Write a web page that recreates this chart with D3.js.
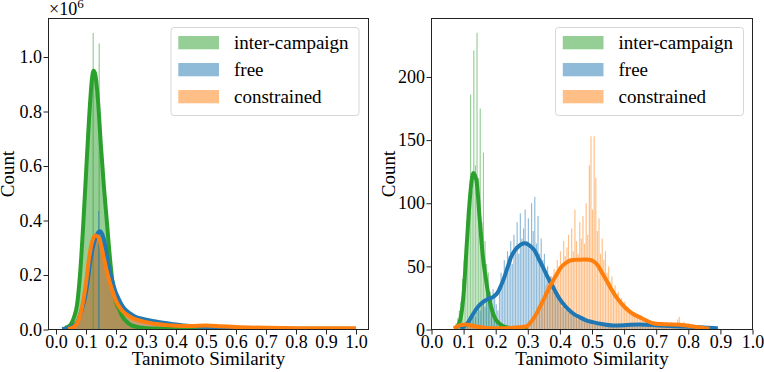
<!DOCTYPE html>
<html>
<head>
<meta charset="utf-8">
<script src="https://cdn.jsdelivr.net/npm/d3@7"></script>
<style>
  body { margin: 0; background: #fff; }
</style>
</head>
<body>
<div id="chart"></div>
<script>
// ---- data ----
var labels = ["inter-campaign", "free", "constrained"];
var colors = ["#2ca02c", "#1f77b4", "#ff7f0e"];
var xTicks = [0, 0.1, 0.2, 0.3, 0.4, 0.5, 0.6, 0.7, 0.8, 0.9, 1.0];
var leftYTicks = [0, 0.2, 0.4, 0.6, 0.8, 1.0];   // x 10^6
var rightYTicks = [0, 50, 100, 150, 200];

// left panel: all molecules (counts in millions), bins of 0.01
var leftBinWidth = 0.01;
var leftHistStart = [0.03, 0.02, 0.04];
var leftHistGreen = [0.008,0.015,0.035,0.065,0.13,0.28,0.47,0.68,0.86,0.93,0.87,0.74,0.6,0.45,0.32,0.2,0.13,0.085,0.058,0.04,0.027,0.018,0.012,0.008,0.006,0.005,0.004];
var leftHistBlue = [0.003,0.004,0.007,0.012,0.022,0.038,0.07,0.11,0.17,0.25,0.31,0.345,0.36,0.345,0.3,0.235,0.19,0.148,0.115,0.092,0.08,0.068,0.06,0.053,0.047,0.043,0.04,0.037,0.035,0.033,0.03,0.028,0.026,0.024,0.023,0.021,0.019,0.018,0.016,0.015,0.014,0.013,0.012,0.011,0.01,0.01,0.009,0.008];
var leftHistOrange = [0.003,0.008,0.02,0.04,0.075,0.14,0.22,0.29,0.335,0.345,0.325,0.29,0.235,0.19,0.15,0.12,0.095,0.078,0.065,0.055,0.048,0.042,0.037,0.033,0.03,0.028,0.025,0.023,0.021,0.02,0.019,0.018,0.017,0.016,0.015,0.014,0.014,0.013,0.013,0.013,0.013,0.014,0.015,0.016,0.015,0.014,0.013,0.012,0.012,0.011,0.01,0.01,0.01,0.009,0.009,0.008,0.008,0.008,0.007,0.007];
// single tall bins that stick out of the left histograms
var leftSpikeX = [0.124, 0.144, 0.142];
var leftSpikeV = [1.088, 1.05, 0.435];
var leftSpikeSeries = [0, 0, 1];

var leftKdeGreenX = [0.03,0.04,0.05,0.06,0.07,0.08,0.09,0.10,0.11,0.12,0.125,0.13,0.14,0.15,0.16,0.17,0.18,0.19,0.20,0.21,0.22,0.24,0.26,0.30,0.40,0.60,0.80];
var leftKdeGreen = [0.005,0.01,0.02,0.045,0.09,0.2,0.37,0.57,0.77,0.92,0.95,0.94,0.84,0.67,0.52,0.39,0.26,0.16,0.1,0.075,0.05,0.024,0.012,0.005,0.003,0.002,0.002];
var leftKdeBlueX = [0.02,0.04,0.06,0.074,0.085,0.097,0.105,0.113,0.125,0.137,0.147,0.16,0.174,0.185,0.197,0.21,0.224,0.245,0.269,0.29,0.313,0.34,0.369,0.4,0.424,0.46,0.49,0.55,0.6,0.7,0.8,0.9,1.0];
var leftKdeBlue = [0.002,0.005,0.015,0.033,0.07,0.119,0.17,0.24,0.31,0.35,0.361,0.33,0.24,0.19,0.143,0.11,0.082,0.06,0.045,0.039,0.033,0.028,0.023,0.018,0.015,0.012,0.01,0.007,0.005,0.004,0.003,0.003,0.002];
var leftKdeOrangeX = [0.04,0.06,0.08,0.09,0.1,0.11,0.12,0.13,0.14,0.15,0.16,0.17,0.18,0.19,0.2,0.22,0.25,0.28,0.3,0.35,0.4,0.45,0.5,0.55,0.6,0.7,0.8,0.9,1.0];
var leftKdeOrange = [0.002,0.01,0.05,0.1,0.17,0.26,0.32,0.345,0.34,0.31,0.26,0.21,0.17,0.135,0.105,0.07,0.045,0.032,0.027,0.018,0.014,0.013,0.015,0.012,0.009,0.006,0.005,0.005,0.005];

// right panel: selected molecules (counts), bins of 0.005
var rightBinWidth = 0.005;
var rightHistStart = [0.07, 0.09, 0.07];
var rightHistGreen = [2,5,9,15,22,40,55,48,95,80,186,110,221,130,235,120,175,85,140,70,52,45,30,25,17,12,9,7,5,4,3,3,2,2,2,1,1,1,1,1,0,1,0,1];
var rightHistBlue = [0,1,2,3,5,4,7,9,12,10,
  14,17,15,20,24,18,28,22,30,25,
  32,27,20,15,35,45,38,55,48,62,
  58,70,52,75,66,85,60,92,72,80,
  95,70,88,64,100,78,105,68,90,60,
  72,55,60,45,50,38,42,30,35,27,
  28,22,24,18,20,15,16,13,14,11,
  12,10,10,8,9,7,8,6,7,6,
  6,5,5,4,5,4,4,3,4,3,
  3,4,3,3,2,4,3,3,4,3,
  4,3,5,4,3,5,4,4,5,4,
  4,5,3,4,4,3,5,3,4,3,
  3,4,3,3,2,3,3,2,3,2,
  3,2,2,3,2,2,3,2,2,1,
  2,2,1,2,2,1,2,1,2,1,
  2,1,1,2,1,1,1,1,1,1,
  1];
var rightHistOrange = [2,3,5,4,6,4,5,3,4,3,
  3,2,3,2,2,1,2,1,1,1,
  1,1,1,0,1,1,0,1,1,0,
  1,1,0,1,1,1,2,1,1,2,
  2,1,2,3,2,3,4,5,7,9,
  12,15,14,20,24,22,30,35,28,38,
  42,36,48,45,55,50,62,52,70,58,
  65,75,55,80,62,95,70,60,85,72,
  90,68,100,75,130,153,95,153,120,78,
  88,60,72,55,62,45,50,38,42,32,
  35,28,30,22,25,20,22,16,18,14,
  15,12,14,10,12,9,11,8,9,7,
  8,6,7,5,6,5,6,4,5,5,
  6,4,5,4,5,6,4,5,4,8,
  10,5,4,6,3,4,5,3,4,3,
  3,2,3,2,3,2,2,1,2,1,
  1,1,1,1,0];

var rightKdeGreenX = [0.07,0.08,0.09,0.1,0.11,0.12,0.13,0.14,0.15,0.16,0.17,0.18,0.19,0.2,0.21,0.22,0.24,0.26,0.28,0.3];
var rightKdeGreen = [0.5,2,8,28,68,105,124,118,88,58,39,24,14,8,5,3,1.5,1,0.6,0.3];
var rightKdeBlueX = [0.09,0.1,0.115,0.13,0.145,0.16,0.175,0.191,0.207,0.217,0.227,0.238,0.248,0.258,0.269,0.28,0.29,0.3,0.31,0.321,0.334,0.347,0.36,0.373,0.386,0.399,0.415,0.43,0.445,0.461,0.48,0.502,0.53,0.565,0.6,0.648,0.71,0.773,0.835,0.892];
var rightKdeBlue = [0.5,2,6,12.5,18,21.7,24,25.6,29.6,35,41.5,50,57.4,62,65.3,67.5,68.3,67.5,65.5,62.7,56,49.4,42.5,36.2,30,24.3,19,15,12,9.8,7.5,5.8,4.3,3.2,3.4,4,3.2,2.4,1.8,1];
var rightKdeOrangeX = [0.07,0.077,0.09,0.107,0.12,0.138,0.16,0.18,0.22,0.253,0.275,0.295,0.31,0.327,0.34,0.353,0.366,0.379,0.392,0.404,0.42,0.435,0.45,0.465,0.48,0.492,0.505,0.518,0.53,0.545,0.56,0.576,0.592,0.607,0.627,0.648,0.67,0.69,0.715,0.742,0.773,0.8,0.814,0.84,0.866];
var rightKdeOrange = [1,2,3.5,4,3.4,2.4,1.5,1,0.9,1.3,1.8,2.4,6,12.5,19,25.6,32.5,38.9,44.5,49.4,53,54.8,55.3,55.3,55.5,55.3,54,50.8,45.5,38.9,32,25.6,20.5,16.4,12.5,9.8,7,5,4.3,4,3.7,3,2.4,1.5,0.6];

var FONT = "'Liberation Serif', 'DejaVu Serif', serif";

// ---- chart ----
var svg = d3.select("#chart").append("svg")
            .attr("width", 764)
            .attr("height", 372)
            .style("font-family", FONT);

function drawPanel(p) {
  var x = d3.scaleLinear().domain(p.xDomain).range([p.left, p.right]);
  var y = d3.scaleLinear().domain(p.yDomain).range([p.bottom, p.top]);
  var g = svg.append("g");

  g.append("clipPath").attr("id", "clip" + p.id)
    .append("rect")
    .attr("x", p.left).attr("y", p.top)
    .attr("width", p.right - p.left).attr("height", p.bottom - p.top);
  var plot = g.append("g").attr("clip-path", "url(#clip" + p.id + ")");

  // histograms
  p.hists.forEach(function(h) {
    if (p.steps) {
      // fine bins with many counts: one stepped outline, no seams
      var pts = [[x(h.start), y(0)]];
      h.values.forEach(function(v, i) {
        pts.push([x(h.start + i * p.binWidth), y(v)]);
        pts.push([x(h.start + (i + 1) * p.binWidth), y(v)]);
      });
      pts.push([x(h.start + h.values.length * p.binWidth), y(0)]);
      plot.append("path")
        .attr("d", d3.line()(pts) + "Z")
        .attr("fill", colors[h.series])
        .attr("fill-opacity", 0.5);
    } else {
      plot.append("g").selectAll("rect")
        .data(h.values)
        .join("rect")
        .attr("x", function(d, i) { return x(h.start + i * p.binWidth); })
        .attr("width", function(d, i) {
          return (x(h.start + (i + 1) * p.binWidth) - x(h.start + i * p.binWidth)) * 0.72;
        })
        .attr("y", function(d) { return y(d); })
        .attr("height", function(d) { return y(0) - y(d); })
        .attr("fill", colors[h.series])
        .attr("fill-opacity", 0.5);
    }
  });

  if (p.spikes) {
    plot.append("g").selectAll("rect")
      .data(p.spikes.x)
      .join("rect")
      .attr("x", function(d) { return x(d - 0.002); })
      .attr("width", function(d) { return x(d + 0.002) - x(d - 0.002); })
      .attr("y", function(d, i) { return y(p.spikes.v[i]); })
      .attr("height", function(d, i) { return y(0) - y(p.spikes.v[i]); })
      .attr("fill", function(d, i) { return colors[p.spikes.series[i]]; })
      .attr("fill-opacity", 0.5);
  }

  // kde curves
  var line = d3.line()
    .x(function(d) { return x(d[0]); })
    .y(function(d) { return y(d[1]); })
    .curve(d3.curveMonotoneX);
  p.kdes.forEach(function(k) {
    plot.append("path")
      .attr("d", line(d3.zip(k.x, k.v)))
      .attr("fill", "none")
      .attr("stroke", colors[k.series])
      .attr("stroke-width", 4)
      .attr("stroke-linejoin", "round");
  });

  // axes
  var xAxis = g.append("g")
    .attr("transform", "translate(0," + p.bottom + ")")
    .call(d3.axisBottom(x).tickValues(xTicks).tickFormat(d3.format(".1f"))
          .tickSize(5).tickSizeOuter(0).tickPadding(1));
  var yAxis = g.append("g")
    .attr("transform", "translate(" + p.left + ",0)")
    .call(d3.axisLeft(y).tickValues(p.yTicks).tickFormat(d3.format(p.yFormat))
          .tickSize(5).tickSizeOuter(0).tickPadding(1.5));
  [xAxis, yAxis].forEach(function(a) {
    a.attr("font-family", FONT).attr("font-size", 18);
    a.select(".domain").remove();
    a.selectAll(".tick line").attr("stroke", "#222");
    a.selectAll(".tick text").attr("fill", "#000");
  });

  g.append("rect")
    .attr("x", p.left).attr("y", p.top)
    .attr("width", p.right - p.left).attr("height", p.bottom - p.top)
    .attr("fill", "none")
    .attr("stroke", "#222")
    .attr("stroke-width", 1);

  // axis titles
  g.append("text")
    .attr("transform", "translate(" + p.yLabelX + "," + (p.top + p.bottom) / 2 + ") rotate(-90)")
    .attr("text-anchor", "middle")
    .attr("font-family", FONT)
    .attr("font-size", 19)
    .text("Count");
  g.append("text")
    .attr("x", (p.left + p.right) / 2)
    .attr("y", 365)
    .attr("text-anchor", "middle")
    .attr("font-family", FONT)
    .attr("font-size", 19)
    .text("Tanimoto Similarity");

  // legend
  var lg = g.append("g").attr("transform", "translate(" + p.legendX + ",27.5)");
  lg.append("rect")
    .attr("width", 188).attr("height", 88).attr("rx", 3)
    .attr("fill", "#fff").attr("fill-opacity", 0.8)
    .attr("stroke", "#d6d6d6");
  labels.forEach(function(name, i) {
    lg.append("rect")
      .attr("x", 7.3).attr("y", 8.5 + 27 * i)
      .attr("width", 40.7).attr("height", 13.3)
      .attr("fill", colors[i]).attr("fill-opacity", 0.5);
    lg.append("text")
      .attr("x", 63).attr("y", 21.8 + 27 * i)
      .attr("font-family", FONT)
      .attr("font-size", 19)
      .text(name);
  });
}

drawPanel({
  id: "L", left: 48.5, right: 368.5, top: 18.5, bottom: 329.5,
  xDomain: [-0.025, 1.0417], yDomain: [0, 1.1413],
  yTicks: leftYTicks, yFormat: ".1f", yLabelX: 14, legendX: 171,
  binWidth: leftBinWidth, steps: true,
  hists: [
    { series: 0, start: leftHistStart[0], values: leftHistGreen },
    { series: 1, start: leftHistStart[1], values: leftHistBlue },
    { series: 2, start: leftHistStart[2], values: leftHistOrange }
  ],
  spikes: { x: leftSpikeX, v: leftSpikeV, series: leftSpikeSeries },
  kdes: [
    { series: 0, x: leftKdeGreenX, v: leftKdeGreen },
    { series: 1, x: leftKdeBlueX, v: leftKdeBlue },
    { series: 2, x: leftKdeOrangeX, v: leftKdeOrange }
  ]
});

drawPanel({
  id: "R", left: 431.5, right: 752.5, top: 18.5, bottom: 329.5,
  xDomain: [0, 1], yDomain: [0, 246.3],
  yTicks: rightYTicks, yFormat: "d", yLabelX: 395, legendX: 555.5,
  binWidth: rightBinWidth, steps: false,
  hists: [
    { series: 0, start: rightHistStart[0], values: rightHistGreen },
    { series: 1, start: rightHistStart[1], values: rightHistBlue },
    { series: 2, start: rightHistStart[2], values: rightHistOrange }
  ],
  kdes: [
    { series: 0, x: rightKdeGreenX, v: rightKdeGreen },
    { series: 1, x: rightKdeBlueX, v: rightKdeBlue },
    { series: 2, x: rightKdeOrangeX, v: rightKdeOrange }
  ]
});

// offset text of the left y axis
svg.append("text")
  .attr("x", 49).attr("y", 15)
  .attr("font-family", FONT)
  .attr("font-size", 18)
  .text("\u00d710")
  .append("tspan")
  .attr("dy", -7)
  .attr("font-size", 13)
  .text("6");
</script>
</body>
</html>
